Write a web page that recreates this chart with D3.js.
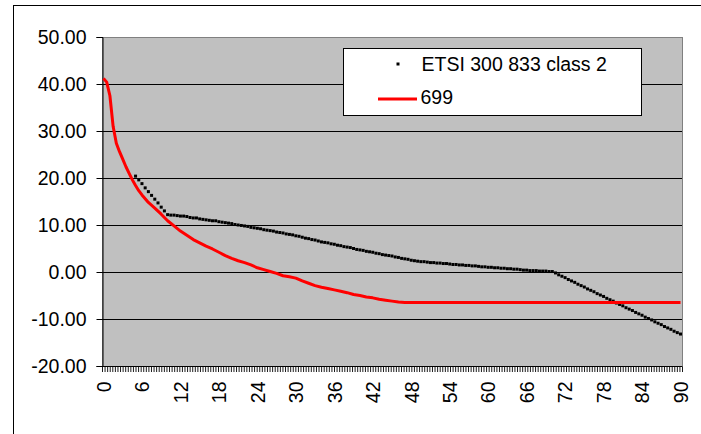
<!DOCTYPE html>
<html><head><meta charset="utf-8">
<script src="https://cdn.jsdelivr.net/npm/d3@7"></script>
<style>
body{margin:0;background:#fff}
svg{display:block}
text{font-family:"Liberation Sans",Arial,sans-serif;fill:#000}
</style>
</head><body>
<svg id="c" width="701" height="434"></svg>
<script>
// ---- data ----
const seriesNames = ["ETSI 300 833 class 2", "699"];
const yTickValues = [50, 40, 30, 20, 10, 0, -10, -20];
const xTickLabels = [0, 6, 12, 18, 24, 30, 36, 42, 48, 54, 60, 66, 72, 78, 84, 90];
const xMinorStep = 0.4;

// ETSI mask: one value every 0.5 degree from 5 to 90
const etsiStart = 5, etsiStep = 0.5;
const etsiValues = [
  20.4, 19.6, 18.8, 17.9, 17.1, 16.3, 15.5, 14.7, 13.8, 13.0,
  12.2, 12.1, 12.1, 12.0, 11.9, 11.9, 11.8, 11.6, 11.5, 11.5,
  11.3, 11.2, 11.1, 11.0, 10.9, 10.9, 10.7, 10.6, 10.5, 10.4,
  10.3, 10.1, 10.0, 9.9, 9.8, 9.7, 9.5, 9.4, 9.3, 9.2,
  9.0, 8.9, 8.8, 8.7, 8.5, 8.4, 8.3, 8.1, 8.0, 7.9,
  7.7, 7.6, 7.4, 7.2, 7.1, 6.9, 6.8, 6.6, 6.4, 6.3,
  6.2, 6.0, 5.9, 5.7, 5.6, 5.4, 5.3, 5.2, 5.0, 4.8,
  4.7, 4.6, 4.4, 4.3, 4.2, 4.0, 3.9, 3.7, 3.6, 3.5,
  3.4, 3.2, 3.1, 2.9, 2.8, 2.7, 2.5, 2.4, 2.3, 2.2,
  2.2, 2.1, 2.0, 2.0, 1.9, 1.9, 1.8, 1.8, 1.7, 1.6,
  1.6, 1.5, 1.5, 1.4, 1.4, 1.3, 1.3, 1.2, 1.1, 1.1,
  1.0, 1.0, 0.9, 0.9, 0.8, 0.8, 0.7, 0.7, 0.6, 0.6,
  0.5, 0.4, 0.4, 0.3, 0.3, 0.3, 0.2, 0.2, 0.2, 0.1,
  0.1,
  -0.2, -0.6, -0.9, -1.2, -1.6, -1.9, -2.2, -2.6, -2.9,
  -3.2, -3.6, -3.9, -4.2, -4.6, -4.9, -5.2, -5.6, -5.9, -6.2,
  -6.6, -6.9, -7.2, -7.6, -7.9, -8.2, -8.6, -8.9, -9.2, -9.6,
  -9.9, -10.2, -10.6, -10.9, -11.2, -11.6, -11.9, -12.2, -12.6, -12.9, -13.2
];

// 699 antenna pattern
const redAngles = [0, 0.5, 1, 1.5, 2, 2.5, 3, 3.5, 4, 4.5, 5, 5.5, 6,
  7, 8, 9, 10, 11, 12, 13, 14, 15, 16, 17, 18, 19, 20, 21, 22, 23, 24, 25, 26, 27,
  28, 29, 30, 31, 32, 33, 34, 35, 36, 37, 38, 39, 40, 41, 42, 43, 44, 45, 46, 47, 90];
const redValues = [41.2, 40.4, 37.5, 31.0, 27.4, 25.6, 24.0, 22.4, 21.0, 19.6, 18.4, 17.3, 16.4,
  14.8, 13.6, 12.3, 10.9, 9.8, 8.7, 7.8, 6.9, 6.2, 5.5, 4.9, 4.2, 3.5, 2.9, 2.4, 2.0, 1.5, 0.9, 0.5, 0.1, -0.3,
  -0.8, -1.0, -1.3, -1.9, -2.4, -2.9, -3.25, -3.5, -3.8, -4.1, -4.4, -4.8, -5.0, -5.3, -5.5, -5.8, -6.0, -6.2, -6.4, -6.5, -6.5];

// ---- drawing ----
const svg = d3.select("#c");
const plot = {left: 102, right: 682, top: 37, bottom: 366};
const x = d3.scaleLinear().domain([0, 90]).range([103.5, 680.5]);
const y = d3.scaleLinear().domain([-20, 50]).range([plot.bottom, plot.top]);

// outer chart border (cut by the picture edges)
svg.append("rect").attr("x", 13.5).attr("y", 5.5).attr("width", 720).attr("height", 460)
  .attr("fill", "none").attr("stroke", "#000");

// plot area
svg.append("rect").attr("x", plot.left).attr("y", plot.top)
  .attr("width", plot.right - plot.left).attr("height", plot.bottom - plot.top)
  .attr("fill", "#c0c0c0").attr("stroke", "#808080").attr("shape-rendering", "crispEdges");

// gridlines
svg.append("g").selectAll("line").data(yTickValues.filter(v => v > -20 && v < 50)).join("line")
  .attr("x1", plot.left).attr("x2", plot.right)
  .attr("y1", d => Math.round(y(d)) + 0.5).attr("y2", d => Math.round(y(d)) + 0.5)
  .attr("stroke", "#000").attr("stroke-width", 1);

// y axis
const yAxis = svg.append("g").attr("transform", `translate(${plot.left + 0.5},0)`)
  .call(d3.axisLeft(y).tickValues(yTickValues).tickSize(6).tickPadding(10)
    .tickFormat(d => d.toFixed(2)));
yAxis.select(".domain").attr("stroke", "#000");
yAxis.selectAll(".tick line").attr("stroke", "#000");
yAxis.selectAll("text").attr("font-size", "19.5px").attr("font-family", '"Liberation Sans",Arial,sans-serif').attr("fill", "#000");

// x axis: minor ticks
const minorTicks = d3.range(0, 90 + 1e-6, xMinorStep);
const xMinor = d3.scaleLinear().domain([0, 90]).range([plot.left, plot.right]);
const xMinorAxis = svg.append("g").attr("transform", `translate(0,${plot.bottom + 0.5})`)
  .call(d3.axisBottom(xMinor).tickValues(minorTicks).tickSize(5.5).tickFormat(""));
xMinorAxis.select(".domain").remove();
xMinorAxis.selectAll(".tick line").attr("stroke", "#000").attr("stroke-width", 0.9);

// x axis: labels
const xAxis = svg.append("g").attr("transform", `translate(0,${plot.bottom + 0.5})`)
  .call(d3.axisBottom(x).tickValues(xTickLabels).tickSize(0).tickFormat(d => String(d)));
xAxis.select(".domain").attr("d", `M${plot.left},0H${plot.right}`).attr("stroke", "#000");
xAxis.selectAll("text")
  .attr("font-size", "19.5px").attr("font-family", '"Liberation Sans",Arial,sans-serif').attr("fill", "#000")
  .attr("transform", "rotate(-90)")
  .attr("text-anchor", "end")
  .attr("x", -15).attr("y", 0).attr("dy", "0.35em");

// ETSI dots
const etsiData = etsiValues.map((v, i) => ({a: etsiStart + i * etsiStep, v}));
svg.append("g").selectAll("rect").data(etsiData).join("rect")
  .attr("x", d => x(d.a) - 1.5).attr("y", d => y(d.v) - 1.5)
  .attr("width", 3).attr("height", 3).attr("fill", "#000");

// 699 red line
const redData = redAngles.map((a, i) => ({a, v: redValues[i]}));
svg.append("path").datum(redData)
  .attr("d", d3.line().x(d => x(d.a)).y(d => y(d.v)))
  .attr("fill", "none").attr("stroke", "#ff0000").attr("stroke-width", 3)
  .attr("stroke-linejoin", "round");

// legend
const lg = svg.append("g");
lg.append("rect").attr("x", 343.5).attr("y", 48.5).attr("width", 298).attr("height", 67)
  .attr("fill", "#fff").attr("stroke", "#000");
lg.append("rect").attr("x", 396.5).attr("y", 62.5).attr("width", 3).attr("height", 3).attr("fill", "#000");
lg.append("text").attr("x", 421.5).attr("y", 70.7).attr("font-size", "19.5px").text(seriesNames[0]);
lg.append("line").attr("x1", 378).attr("x2", 417).attr("y1", 99).attr("y2", 99)
  .attr("stroke", "#ff0000").attr("stroke-width", 3);
lg.append("text").attr("x", 420.5).attr("y", 104).attr("font-size", "19.5px").text(seriesNames[1]);
</script>
</body></html>
